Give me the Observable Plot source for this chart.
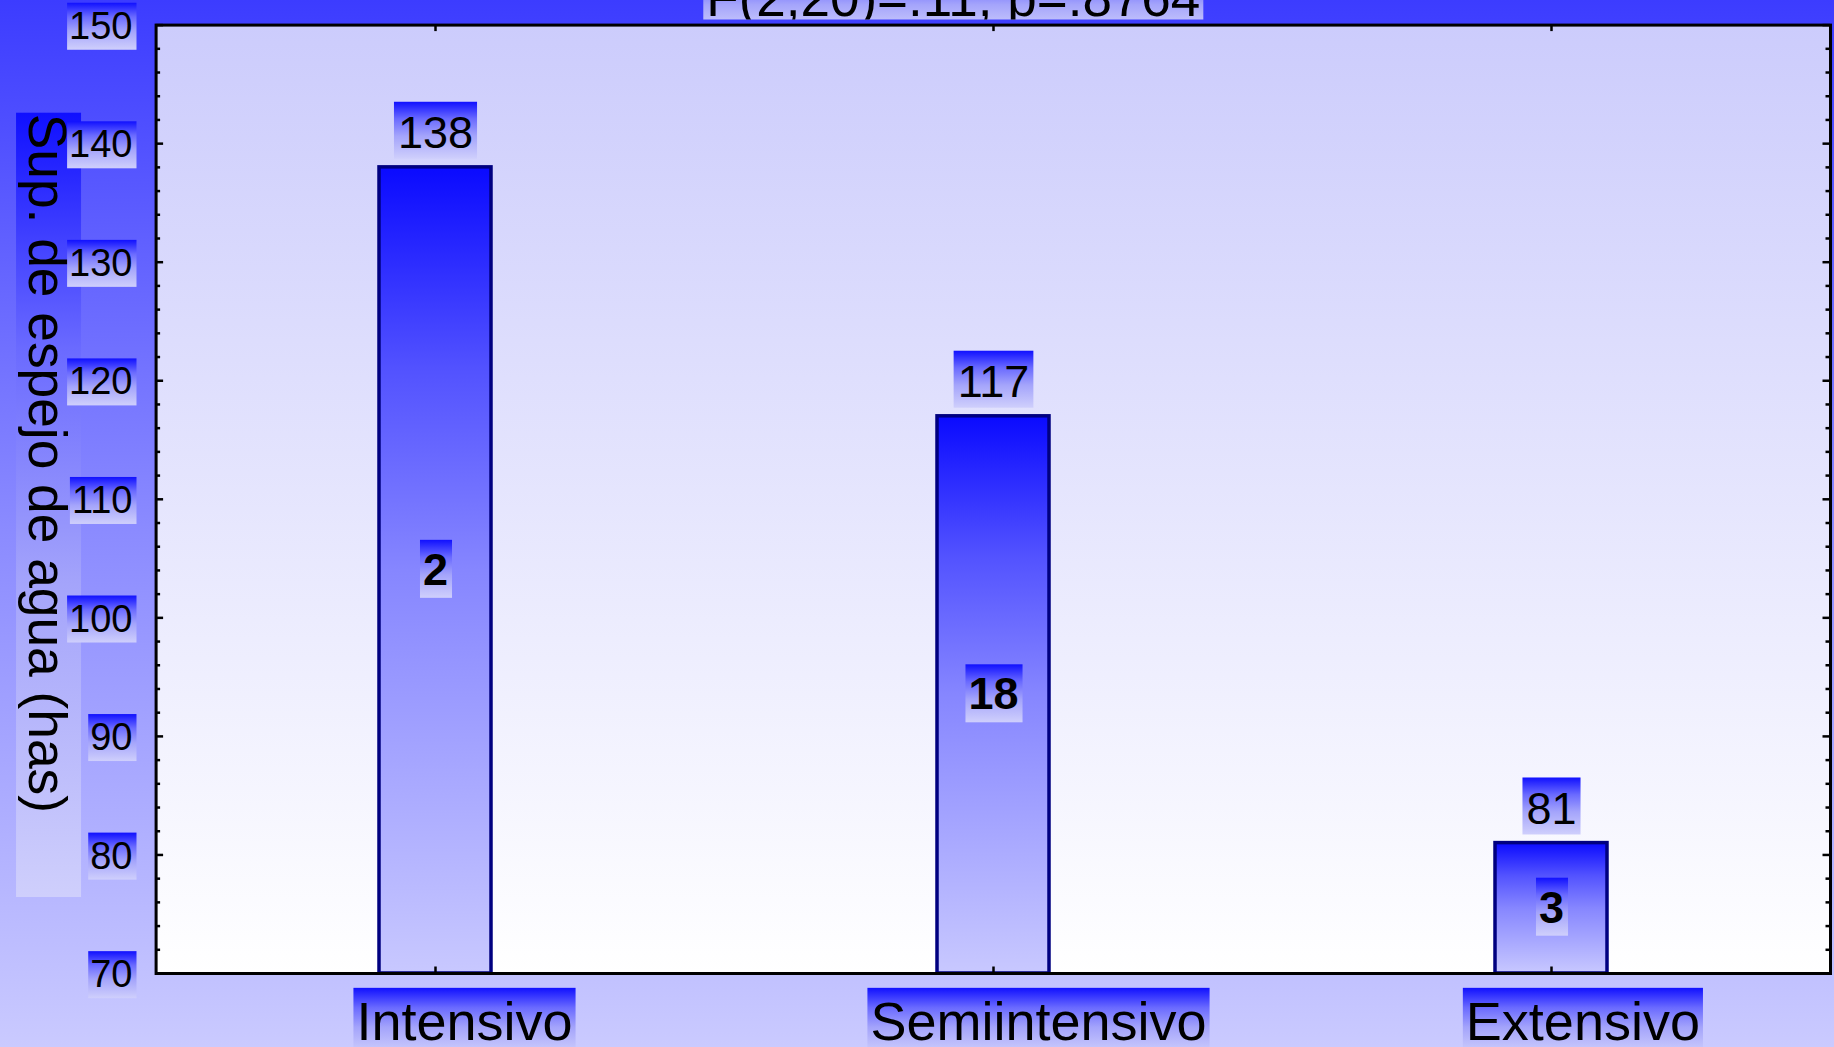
<!DOCTYPE html>
<html>
<head>
<meta charset="utf-8">
<script src="https://cdn.jsdelivr.net/npm/d3@7"></script>
<script src="https://cdn.jsdelivr.net/npm/@observablehq/plot@0.6"></script>
<style>
  html, body { margin: 0; padding: 0; background: #c8c8fc; overflow: hidden; }
  svg { display: block; }
</style>
</head>
<body>
<div id="chart"></div>
<script>
// ---- data ----
const categories = ["Intensivo", "Semiintensivo", "Extensivo"];
const meanValues = [138, 117, 81];
const counts = [2, 18, 3];
const yTickLabels = [70, 80, 90, 100, 110, 120, 130, 140, 150];
const titleText = "F(2,20)=.11, p=.8764";
const yTitle = "Sup. de espejo de agua (has)";

// ---- layout ----
const W = 1834, H = 1047;
const M = {top: 24.6, right: 4, bottom: 74, left: 155.6};
const FW = W - M.left - M.right, FH = H - M.top - M.bottom;
const yDomain = [70, 150];
const FONT = "'Liberation Sans', Arial, Helvetica, sans-serif";

const rows = categories.map((c, i) => ({cat: c, value: meanValues[i], n: counts[i]}));
const minorTicks = d3.range(yDomain[0], yDomain[1] + 1, 2).filter(v => v % 10 !== 0);

const tickStyle = {stroke: "black", strokeWidth: 2.5};

const chart = Plot.plot({
  width: W, height: H,
  marginTop: M.top, marginRight: M.right, marginBottom: M.bottom, marginLeft: M.left,
  style: {
    background: "linear-gradient(to bottom, #3c3cff 0%, #8a8aff 50%, #cacaff 100%)",
    fontFamily: FONT
  },
  x: {type: "band", domain: categories, paddingInner: 0.8, paddingOuter: 0.4, axis: null},
  y: {domain: yDomain, axis: null},
  marks: [
    Plot.frame({fill: "url(#plotGrad)", stroke: "none"}),
    Plot.barY(rows, {x: "cat", y1: yDomain[0], y2: "value", fill: "url(#barGrad)", stroke: "#000080", strokeWidth: 3.5}),
    // minor & major ticks on left and right edges (inward)
    Plot.ruleY(minorTicks, {y: d => d, insetRight: FW - 4.5, ...tickStyle}),
    Plot.ruleY(minorTicks, {y: d => d, insetLeft: FW - 4.5, ...tickStyle}),
    Plot.ruleY(yTickLabels, {y: d => d, insetRight: FW - 7.5, ...tickStyle}),
    Plot.ruleY(yTickLabels, {y: d => d, insetLeft: FW - 7.5, ...tickStyle}),
    // category ticks on top and bottom edges (inward)
    Plot.ruleX(categories, {x: d => d, insetBottom: FH - 6.5, ...tickStyle}),
    Plot.ruleX(categories, {x: d => d, insetTop: FH - 6.5, ...tickStyle}),
    Plot.frame({stroke: "black", strokeWidth: 3}),
    // [text group 0] y title
    Plot.text([yTitle], {text: d => d, frameAnchor: "top-left", lineAnchor: "middle", textAnchor: "start", rotate: 90,
      dx: -110, dy: 88.6, fontSize: 53.3, fill: "black"}),
    // [1] y tick labels
    Plot.text(yTickLabels, {y: d => d, text: d => String(d), frameAnchor: "left", lineAnchor: "middle", textAnchor: "end",
      dx: -23.6, dy: 1.5, fontSize: 38, fill: "black"}),
    // [2] mean value labels above bars
    Plot.text(rows, {x: "cat", y: "value", text: d => String(d.value), lineAnchor: "middle", dy: -34,
      fontSize: 45, fill: "black"}),
    // [3] count labels inside bars
    Plot.text(rows, {x: "cat", y: d => (d.value + yDomain[0]) / 2, text: d => String(d.n), lineAnchor: "middle",
      fontSize: 45, fontWeight: "bold", fill: "black"}),
    // [4] category labels
    Plot.text(categories, {x: d => d, text: d => d, frameAnchor: "bottom", lineAnchor: "top", dy: 28,
      fontSize: 54, fill: "black"}),
    // [5] title (partially cut at the top)
    Plot.text([titleText], {text: d => d, frameAnchor: "top", lineAnchor: "middle", dx: -40, dy: -25.6,
      fontSize: 53, fill: "black"})
  ]
});

document.getElementById("chart").appendChild(chart);

// ---- gradients ----
const svg = d3.select(chart);
const defs = svg.insert("defs", ":first-child");
function gradient(id, stops, horizontal) {
  const g = defs.append("linearGradient").attr("id", id)
    .attr("x1", 0).attr("y1", 0).attr("x2", horizontal ? 1 : 0).attr("y2", horizontal ? 0 : 1);
  for (const [o, c] of stops) g.append("stop").attr("offset", o).attr("stop-color", c);
}
gradient("plotGrad", [[0, "#ccccfc"], [1, "#ffffff"]]);
const blueStops = [[0, "#0a0aff"], [0.25, "#5252ff"], [0.5, "#8686ff"], [1, "#c8c8ff"]];
gradient("barGrad", blueStops);
const boxStops = [[0, "#1010ff"], [0.3, "#6a6aff"], [0.6, "#a4a4fb"], [1, "#cfcffc"]];
gradient("boxGrad", boxStops);
gradient("boxGradH", boxStops, true);
defs.append("clipPath").attr("id", "titleClip")
  .append("rect").attr("x", 0).attr("y", 0).attr("width", W).attr("height", 19.5);

// text mark groups, in mark order
const textGroups = Array.from(chart.querySelectorAll('g[aria-label="text"]'));
const [gYTitle, gYTick, gValue, gN, gXTick, gTitle] = textGroups;

// shift category labels slightly right, as in the reference
if (gXTick) gXTick.querySelectorAll("text").forEach(t => {
  const len = t.getComputedTextLength();
  t.setAttribute("dx", (0.134 * len).toFixed(1));
});

// gradient boxes behind label texts
function boxes(group, pad, gradId) {
  if (!group) return;
  group.querySelectorAll("text").forEach(t => {
    const bb = t.getBBox();
    const r = document.createElementNS("http://www.w3.org/2000/svg", "rect");
    r.setAttribute("x", bb.x - pad.l);
    r.setAttribute("y", bb.y - pad.t);
    r.setAttribute("width", bb.width + pad.l + pad.r);
    r.setAttribute("height", bb.height + pad.t + pad.b);
    r.setAttribute("fill", `url(#${gradId})`);
    const tr = t.getAttribute("transform");
    if (tr) r.setAttribute("transform", tr);
    t.parentNode.insertBefore(r, t);
  });
}
boxes(gYTitle, {l: 1, r: 84, t: 4, b: 2}, "boxGradH");
boxes(gYTick, {l: 2, r: 4, t: 2, b: 3}, "boxGrad");
boxes(gValue, {l: 4, r: 4, t: 5, b: 1}, "boxGrad");
boxes(gN, {l: 3, r: 4, t: 4, b: 3}, "boxGrad");
boxes(gXTick, {l: 3, r: 3, t: 3, b: 3}, "boxGrad");
boxes(gTitle, {l: 3, r: 3, t: 3, b: 3}, "boxGrad");

// clip the title to the strip above the frame
if (gTitle) {
  const wrap = document.createElementNS("http://www.w3.org/2000/svg", "g");
  wrap.setAttribute("clip-path", "url(#titleClip)");
  gTitle.parentNode.insertBefore(wrap, gTitle);
  wrap.appendChild(gTitle);
}
</script>
</body>
</html>
